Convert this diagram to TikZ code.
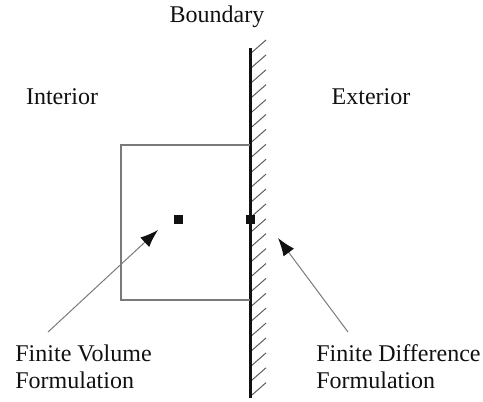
\documentclass[tikz,border=0pt]{standalone}
\usepackage{fontspec}
\setmainfont{Liberation Serif}
\usepackage{tikz}
\usetikzlibrary{arrows.meta, positioning}
\definecolor{bndBlack}{HTML}{111111}
\definecolor{bndGrey}{HTML}{7A7A7A}
\definecolor{bndHatch}{HTML}{5E5E5E}
\tikzset{
  bnd/label/.style   = {font=\fontsize{12}{13.5}\selectfont, text=bndBlack, inner sep=0pt},
  bnd/note/.style    = {bnd/label, align=left, anchor=north west},
  bnd/wall/.style    = {line width=1.5pt, draw=bndBlack},
  bnd/hatch/.style   = {line width=0.5pt, draw=bndHatch},
  bnd/cell/.style    = {line width=0.6pt, draw=bndGrey},
  bnd/point/.style   = {rectangle, fill=bndBlack, minimum size=4.5pt, inner sep=0pt},
  bnd/arrow/.style   = {-{Latex[length=9pt,width=6.5pt,color=bndBlack]}, line width=0.5pt, draw=bndGrey},
}
\begin{document}
\begin{tikzpicture}[x=0.5pt, y=-0.5pt]
  \useasboundingbox (0,0) rectangle (483,402);
  % --- Region labels ---
  \node[bnd/label] (boundary) at (217, 17) {Boundary};
  \node[bnd/label] (interior) at (62, 97)  {Interior};
  \node[bnd/label] (exterior) at (371, 97) {Exterior};
  % --- Boundary wall with hatching on the exterior side ---
  \coordinate (wallTop) at (250, 48);
  \coordinate (wallBot) at (250, 398);
  \foreach \i in {0,...,23}
    \draw[bnd/hatch] (250, 54+\i*14.9) -- ++(16,-14);
  \draw[bnd/wall] (wallTop) -- (wallBot);
  % --- Control volume next to the wall ---
  \draw[bnd/cell] (250,145) -- (121,145) -- (121,300) -- (250,300);
  % --- Nodes: cell centre and boundary point ---
  \node[bnd/point] (fvPoint) at (178, 219) {};
  \node[bnd/point] (fdPoint) at (250, 219) {};
  % --- Annotations ---
  \node[bnd/note] (fvText) at (15, 344) {Finite Volume\\Formulation};
  \node[bnd/note] (fdText) at (316, 344) {Finite Difference\\Formulation};
  \coordinate (fvTail) at (48, 332);
  \coordinate (fvTip)  at (158, 230);
  \coordinate (fdTail) at (348, 332);
  \coordinate (fdTip)  at (278, 238);
  \draw[bnd/arrow] (fvTail) -- (fvTip);
  \draw[bnd/arrow] (fdTail) -- (fdTip);
\end{tikzpicture}
\end{document}
